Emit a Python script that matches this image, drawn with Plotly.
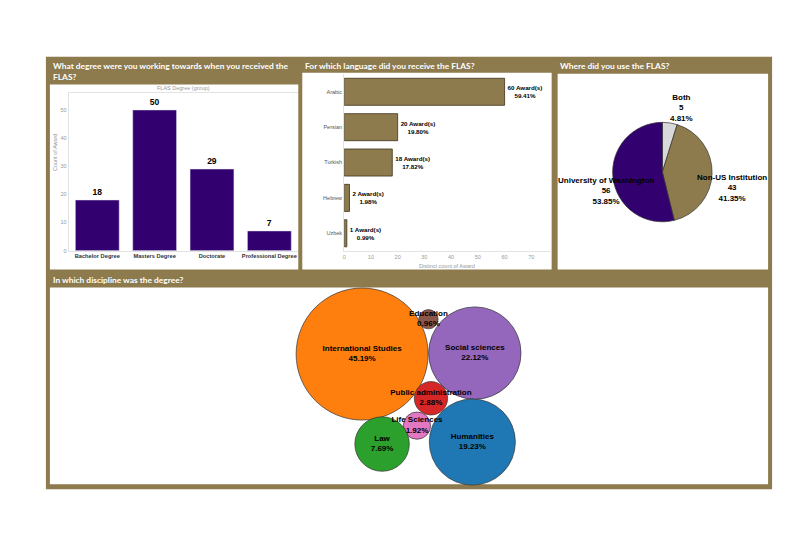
import math
import plotly.graph_objects as go

W, H = 800, 534
BROWN = "#8d7a4d"
PURPLE = "#33006f"

# --- data ---
degree_labels = ["Bachelor Degree", "Masters Degree", "Doctorate", "Professional Degree"]
degree_counts = [18, 50, 29, 7]

languages = ["Arabic", "Persian", "Turkish", "Hebrew", "Uzbek"]
language_awards = [60, 20, 18, 2, 1]

places = ["Both", "Non-US Institution", "University of Washington"]
place_counts = [5, 43, 56]

disciplines = ["International Studies", "Social sciences", "Education", "Public administration",
               "Life Sciences", "Law", "Humanities"]
discipline_counts = [47, 23, 1, 3, 2, 8, 20]
discipline_colors = ["#ff7f0e", "#9467bd", "#8c564b", "#d62728", "#e377c2", "#2ca02c", "#1f77b4"]

# packed-bubble layout (pixel centres inside the bottom panel)
pack_x = [353, 466, 419.5, 422, 408, 373, 463.5]
pack_y = [348, 347, 313, 392.5, 420, 438.5, 436.5]


def px(v):
    return v / W


def py(v):
    return 1 - v / H


fig = go.Figure()

# 1. degree bars
fig.add_trace(go.Bar(
    x=degree_labels, y=degree_counts, marker_color=PURPLE,
    text=degree_counts, textposition="outside", cliponaxis=False,
    textfont=dict(family="Liberation Sans", size=8.5, color="black"),
    texttemplate="<b>%{text}</b>", xaxis="x", yaxis="y", showlegend=False,
))

# 2. language bars
lang_total = sum(language_awards)
lang_text = [f"<b>{v} Award(s)<br>{v / lang_total * 100:.2f}%</b>" for v in language_awards]
fig.add_trace(go.Bar(
    y=languages, x=language_awards, orientation="h",
    marker=dict(color=BROWN, line=dict(color="#3d321a", width=0.8)),
    text=lang_text, textposition="outside", cliponaxis=False,
    textfont=dict(family="Liberation Sans", size=6.2, color="black"),
    xaxis="x2", yaxis="y2", showlegend=False,
))

# 3. pie
fig.add_trace(go.Pie(
    labels=places, values=place_counts, sort=False, direction="clockwise",
    marker=dict(colors=["#d9d9d9", BROWN, PURPLE], line=dict(color="#333333", width=0.7)),
    textinfo="none", hoverinfo="label+value+percent", showlegend=False,
    domain=dict(x=[px(604), px(704)], y=[py(215), py(115)]),
))

# 4. bubbles
disc_total = sum(discipline_counts)
max_r = 66
diam = [2 * max_r * math.sqrt(c / max(discipline_counts)) for c in discipline_counts]
disc_text = [f"<b>{d}<br>{c / disc_total * 100:.2f}%</b>" for d, c in zip(disciplines, discipline_counts)]
fig.add_trace(go.Scatter(
    x=pack_x, y=pack_y, mode="markers+text", text=disc_text,
    textposition="middle center",
    textfont=dict(family="Liberation Sans", size=8, color="black"),
    marker=dict(size=diam, sizemode="diameter", color=discipline_colors, opacity=1,
                line=dict(color="#333333", width=0.7)),
    xaxis="x3", yaxis="y3", showlegend=False, cliponaxis=False,
))

shapes = [
    dict(type="rect", xref="paper", yref="paper", x0=px(36), x1=px(764), y0=py(484), y1=py(49),
         fillcolor=BROWN, line_width=0, layer="below"),
]
for x0, x1, y0, y1 in [(40, 289, 77, 263), (293, 543, 65, 263), (549, 760, 66, 263), (40, 760, 281, 479)]:
    shapes.append(dict(type="rect", xref="paper", yref="paper", x0=px(x0), x1=px(x1), y0=py(y1), y1=py(y0),
                       fillcolor="white", line_width=0, layer="below"))

title_font = dict(family="Lato", size=8.4, color="white")
small_gray = dict(family="Liberation Sans", size=5.5, color="#999999")
annotations = [
    dict(text="<b>What degree were you working towards when you received the<br>FLAS?</b>",
         x=px(41), y=py(64), xanchor="left", yanchor="middle", align="left", font=title_font),
    dict(text="<b>For which language did you receive the FLAS?</b>",
         x=px(294), y=py(58), xanchor="left", yanchor="middle", font=title_font),
    dict(text="<b>Where did you use the FLAS?</b>",
         x=px(549), y=py(58), xanchor="left", yanchor="middle", font=title_font),
    dict(text="<b>In which discipline was the degree?</b>",
         x=px(41), y=py(274), xanchor="left", yanchor="middle", font=title_font),
    dict(text="FLAS Degree (group)", x=px(174), y=py(80), xanchor="center", yanchor="middle",
         font=small_gray),
    dict(text="Count of Award", x=px(45), y=py(145), textangle=-90, xanchor="center", yanchor="middle",
         font=small_gray),
    dict(text="Distinct count of Award", x=px(438), y=py(259), xanchor="center", yanchor="middle",
         font=small_gray),
]

# pie labels
pie_total = sum(place_counts)
pie_pos = [(673, 101), (724, 181), (597, 184)]
for lab, val, (lx, ly) in zip(places, place_counts, pie_pos):
    annotations.append(dict(
        text=f"<b>{lab}<br>{val}<br>{val / pie_total * 100:.2f}%</b>", x=px(lx), y=py(ly),
        xanchor="center", yanchor="middle", showarrow=False,
        font=dict(family="Liberation Sans", size=8, color="black"),
    ))
for a in annotations:
    a["xref"] = "paper"
    a["yref"] = "paper"
    a["showarrow"] = False

fig.update_layout(
    width=W, height=H, margin=dict(l=0, r=0, t=0, b=0),
    paper_bgcolor="white", plot_bgcolor="rgba(0,0,0,0)",
    shapes=shapes, annotations=annotations, bargap=0.235,
    xaxis=dict(domain=[px(58.75), px(288.75)], showline=True, linecolor="#e3e3e3", mirror=True,
               tickfont=dict(family="Liberation Sans", size=5.7, color="#333333"),
               tickprefix="<b>", ticksuffix="</b>", ticks="", fixedrange=True),
    yaxis=dict(domain=[py(244), py(85)], range=[0, 56.2], showgrid=False, zeroline=False,
               showline=True, linecolor="#e3e3e3", tickvals=[0, 10, 20, 30, 40, 50],
               tickfont=small_gray, ticks="", fixedrange=True),
    xaxis2=dict(domain=[px(335), px(543)], range=[0, 77.6], tickvals=[0, 10, 20, 30, 40, 50, 60, 70],
                showgrid=False, zeroline=False, showline=True, linecolor="#e3e3e3",
                tickfont=small_gray, anchor="y2", fixedrange=True),
    yaxis2=dict(domain=[py(244.3), py(66.5)], autorange="reversed", showline=True, linecolor="#e3e3e3",
                tickfont=dict(family="Liberation Sans", size=5.5, color="#555555"),
                anchor="x2", ticks="", fixedrange=True),
    xaxis3=dict(domain=[px(40), px(760)], range=[40, 760], visible=False, anchor="y3", fixedrange=True),
    yaxis3=dict(domain=[py(479), py(281)], range=[479, 281], visible=False, anchor="x3", fixedrange=True),
)

fig.write_html("out.html")
